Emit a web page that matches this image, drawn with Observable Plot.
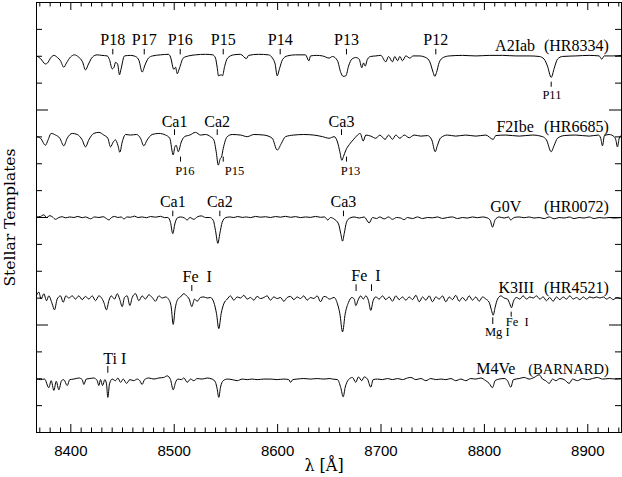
<!DOCTYPE html>
<html><head><meta charset="utf-8">
<script src="https://cdn.jsdelivr.net/npm/d3@7"></script>
<script src="https://cdn.jsdelivr.net/npm/@observablehq/plot@0.6"></script>
<style>body{margin:0;background:#fff}</style>
</head><body><div id="chart"></div>
<script>
// ---- data -------------------------------------------------------------
const stars   = ["A2Iab", "F2Ibe", "G0V", "K3III", "M4Ve"];
const starIds = ["(HR8334)", "(HR6685)", "(HR0072)", "(HR4521)", "(BARNARD)"];
const levels  = [3.508, 2.757, 2.005, 1.256, 0.502];   // continuum offset of each template
const nameLam = [8829.7, 8829.7, 8820.7, 8830.8, 8811.0];
const idEndLam = 8920.3;

// [wavelength (Å), normalised flux]
const specA2Iab = [[8366.8,0.995],[8370.7,0.97],[8375.5,0.92],[8377.5,0.93],[8380.4,0.975],[8383.6,1.0],[8387.1,0.98],[8390.0,0.95],[8393.2,0.89],[8395.8,0.93],[8399.7,0.985],[8403.6,1.005],[8407.4,0.985],[8411.3,0.94],[8414.2,0.865],[8417.1,0.92],[8421.0,0.985],[8425.5,1.005],[8430.0,1.0],[8435.2,0.995],[8437.4,0.96],[8440.0,0.875],[8441.8,0.89],[8443.2,0.935],[8445.2,0.92],[8447.1,0.82],[8448.6,0.875],[8451.9,0.995],[8457.7,1.0],[8462.6,0.99],[8466.0,0.95],[8469.0,0.845],[8471.7,0.91],[8475.1,0.975],[8479.0,0.995],[8486.7,1.005],[8494.5,1.01],[8496.4,0.985],[8499.6,0.87],[8501.3,0.89],[8502.9,0.83],[8505.2,0.885],[8508.7,0.975],[8513.8,0.995],[8520.6,1.005],[8530.3,1.01],[8537.3,1.005],[8539.9,0.975],[8541.6,0.885],[8542.8,0.81],[8545.4,0.82],[8546.7,0.81],[8548.7,0.895],[8551.6,0.975],[8557.4,1.005],[8564.1,1.01],[8569.9,0.97],[8571.9,1.0],[8581.5,1.01],[8591.2,1.005],[8595.0,0.975],[8597.6,0.92],[8599.6,0.81],[8601.8,0.875],[8604.7,0.96],[8609.3,0.995],[8617.3,1.005],[8627.0,1.005],[8630.2,0.95],[8631.9,0.995],[8637.6,1.0],[8643.4,0.995],[8649.9,0.975],[8653.1,0.99],[8657.9,0.95],[8661.1,0.84],[8663.4,0.805],[8666.0,0.81],[8668.6,0.90],[8671.8,0.965],[8675.6,0.98],[8678.9,0.965],[8681.4,0.885],[8683.1,0.93],[8684.7,0.90],[8686.9,0.965],[8690.1,0.99],[8695.0,0.995],[8699.8,1.0],[8704.6,0.94],[8707.3,0.99],[8711.1,0.94],[8713.3,0.99],[8716.0,0.95],[8718.2,0.99],[8720.8,0.95],[8724.0,0.995],[8727.9,0.975],[8731.1,0.995],[8737.0,0.995],[8743.3,0.98],[8747.2,0.94],[8750.5,0.84],[8752.0,0.805],[8753.7,0.84],[8756.3,0.935],[8760.2,0.98],[8766.0,0.995],[8778.8,1.0],[8791.7,0.995],[8804.6,1.0],[8817.5,1.0],[8830.4,0.995],[8843.3,0.995],[8853.0,0.99],[8857.8,0.965],[8861.0,0.90],[8864.6,0.795],[8867.5,0.88],[8870.7,0.965],[8875.5,0.99],[8888.4,0.995],[8901.3,1.0],[8911.0,0.995],[8913.5,0.965],[8915.9,0.995],[8923.9,0.995],[8932.6,1.0]];

const specF2Ibe = [[8366.8,0.995],[8370.7,0.98],[8375.5,0.915],[8377.8,0.96],[8381.0,1.025],[8385.2,1.01],[8389.4,0.98],[8393.2,0.91],[8396.5,0.98],[8401.4,1.025],[8406.2,1.015],[8411.0,0.965],[8414.2,0.90],[8417.4,0.965],[8422.2,1.025],[8427.1,1.035],[8431.9,1.01],[8435.8,0.98],[8438.4,0.90],[8441.0,0.945],[8443.2,0.965],[8445.5,0.915],[8447.4,0.85],[8449.7,0.945],[8452.9,1.015],[8457.7,1.01],[8463.5,1.015],[8467.4,0.98],[8470.6,0.91],[8473.9,0.965],[8478.7,1.015],[8485.1,1.025],[8491.6,1.01],[8495.7,0.98],[8499.0,0.825],[8500.6,0.90],[8501.9,0.915],[8503.9,0.855],[8506.8,0.945],[8510.0,0.995],[8515.1,1.01],[8520.6,1.035],[8525.4,1.01],[8530.3,1.015],[8535.1,0.995],[8538.3,0.965],[8540.6,0.855],[8542.6,0.73],[8544.5,0.79],[8545.7,0.805],[8547.4,0.885],[8551.3,0.995],[8556.1,1.015],[8564.1,1.01],[8570.6,0.995],[8577.0,1.015],[8586.6,1.01],[8594.8,0.98],[8599.6,0.87],[8603.5,0.93],[8607.6,0.995],[8615.7,1.01],[8625.3,1.015],[8635.0,1.01],[8643.4,0.995],[8649.9,0.98],[8654.7,0.995],[8657.9,0.945],[8660.2,0.855],[8662.1,0.775],[8663.7,0.81],[8666.0,0.87],[8669.2,0.92],[8673.1,0.965],[8677.3,1.01],[8679.9,1.025],[8682.8,0.955],[8685.3,1.01],[8690.1,1.0],[8695.0,0.98],[8698.8,1.01],[8704.0,0.97],[8707.3,1.01],[8711.1,0.97],[8714.3,1.01],[8718.2,0.98],[8722.4,1.01],[8727.3,0.985],[8732.1,1.01],[8738.5,1.0],[8745.0,1.005],[8749.1,0.965],[8752.4,0.855],[8754.6,0.915],[8757.8,0.985],[8764.3,1.01],[8772.3,1.0],[8782.0,1.01],[8791.7,1.0],[8801.3,1.01],[8808.5,0.97],[8811.0,1.005],[8820.7,1.01],[8833.6,1.0],[8846.5,1.01],[8856.2,0.995],[8860.0,0.965],[8864.6,0.855],[8867.5,0.915],[8870.7,0.98],[8877.2,1.005],[8888.4,1.01],[8901.3,1.0],[8910.3,1.01],[8912.5,0.98],[8914.2,0.91],[8916.1,1.005],[8920.7,1.015],[8925.5,0.995],[8927.1,0.965],[8928.7,0.90],[8930.4,0.98],[8932.6,1.01]];

const specG0V = [[8366.8,1.0],[8370.7,1.005],[8373.9,1.02],[8376.5,0.995],[8379.7,1.012],[8382.3,1.0],[8385.2,0.978],[8388.4,0.995],[8391.7,1.002],[8394.9,0.992],[8399.0,1.0],[8402.9,0.995],[8406.8,1.005],[8411.0,0.993],[8414.2,1.0],[8419.1,0.983],[8422.9,1.0],[8427.1,0.995],[8431.3,1.002],[8434.5,0.985],[8436.8,0.972],[8439.4,0.995],[8442.3,1.005],[8445.5,0.995],[8448.7,1.0],[8451.3,0.982],[8454.5,1.0],[8457.7,0.997],[8461.6,1.008],[8464.8,0.995],[8469.0,1.0],[8473.2,0.993],[8477.1,1.004],[8481.9,0.998],[8486.7,1.006],[8490.6,0.994],[8493.8,0.995],[8496.4,0.95],[8498.6,0.845],[8500.6,0.935],[8502.9,0.99],[8506.1,1.0],[8510.0,0.99],[8512.6,0.972],[8515.1,0.995],[8519.0,0.978],[8522.2,1.0],[8526.1,1.01],[8530.3,0.995],[8534.4,0.995],[8537.7,0.97],[8539.9,0.875],[8542.2,0.755],[8544.1,0.845],[8546.4,0.95],[8549.6,0.993],[8553.8,1.0],[8557.6,0.995],[8561.5,1.004],[8565.8,0.996],[8569.9,1.0],[8573.8,0.994],[8578.6,1.005],[8583.5,0.998],[8588.3,1.002],[8593.1,0.995],[8598.0,1.004],[8602.8,0.998],[8607.6,1.006],[8612.5,0.997],[8617.3,1.003],[8622.1,0.994],[8627.0,1.0],[8631.8,0.996],[8636.6,1.005],[8641.5,0.997],[8645.4,1.0],[8648.5,0.972],[8651.2,0.995],[8654.7,0.98],[8658.9,0.935],[8661.1,0.845],[8662.8,0.775],[8664.4,0.845],[8666.6,0.95],[8669.8,0.99],[8674.1,1.0],[8678.9,0.99],[8683.7,1.0],[8688.6,0.945],[8691.8,0.995],[8695.6,0.985],[8698.8,1.0],[8703.1,0.982],[8707.3,1.0],[8711.1,0.978],[8715.0,0.995],[8719.1,0.99],[8722.4,0.975],[8725.6,0.995],[8730.5,0.985],[8735.3,1.0],[8740.1,0.985],[8745.0,0.995],[8749.8,0.992],[8754.6,1.0],[8759.5,0.986],[8764.3,0.995],[8769.1,1.0],[8774.0,0.985],[8778.8,0.995],[8783.6,0.99],[8788.5,1.0],[8793.3,0.993],[8798.2,1.0],[8803.0,0.99],[8805.6,0.97],[8807.8,0.905],[8810.4,0.975],[8814.3,1.0],[8819.1,0.99],[8823.3,1.0],[8825.5,0.972],[8828.8,0.995],[8833.6,1.0],[8838.5,0.993],[8843.3,1.0],[8848.1,0.99],[8853.0,0.995],[8857.8,0.985],[8862.7,1.0],[8867.5,0.983],[8872.3,0.995],[8877.2,0.99],[8882.0,1.0],[8886.8,0.985],[8891.7,0.995],[8896.5,0.99],[8901.3,1.0],[8906.2,0.985],[8911.0,0.995],[8915.9,0.99],[8920.7,0.995],[8925.5,0.99],[8932.6,0.995]];

const specK3III = [[8366.8,1.02],[8369.0,1.05],[8371.3,0.985],[8373.9,1.035],[8376.5,0.97],[8378.7,1.015],[8382.0,0.94],[8384.2,0.885],[8386.8,0.985],[8390.0,1.015],[8392.6,0.955],[8395.2,1.015],[8398.1,0.995],[8401.4,1.015],[8404.5,0.985],[8407.7,1.015],[8411.0,0.98],[8414.2,1.01],[8417.4,0.985],[8420.7,1.015],[8423.9,0.97],[8427.1,1.015],[8429.4,1.0],[8431.9,0.955],[8434.5,0.885],[8436.8,0.97],[8439.1,1.015],[8442.3,0.985],[8444.9,1.035],[8447.4,0.98],[8449.7,0.915],[8451.9,1.0],[8454.5,1.015],[8457.1,0.925],[8459.4,1.0],[8462.6,1.035],[8465.8,0.97],[8469.0,1.015],[8472.2,0.985],[8475.4,1.025],[8478.7,1.0],[8481.9,0.965],[8485.1,1.015],[8488.4,0.995],[8491.6,1.005],[8494.8,0.98],[8497.1,0.91],[8499.0,0.75],[8500.9,0.895],[8503.5,0.985],[8506.1,1.005],[8509.3,1.035],[8511.9,1.015],[8514.5,0.985],[8517.0,0.915],[8519.6,0.985],[8522.2,0.965],[8525.4,1.0],[8528.6,1.005],[8531.9,0.995],[8535.1,1.0],[8538.3,0.955],[8540.9,0.85],[8543.1,0.71],[8545.4,0.85],[8547.9,0.94],[8551.3,0.985],[8554.4,1.015],[8557.6,0.975],[8560.9,1.005],[8564.1,0.995],[8567.3,1.02],[8570.6,0.985],[8573.8,1.0],[8577.0,0.975],[8580.2,1.01],[8583.5,0.99],[8586.7,1.0],[8589.9,1.015],[8593.1,0.975],[8596.3,1.005],[8599.6,0.99],[8602.8,1.0],[8606.0,0.965],[8609.3,1.0],[8612.5,1.01],[8615.7,0.98],[8618.9,1.005],[8622.1,0.99],[8625.3,1.015],[8628.6,0.975],[8631.8,1.0],[8635.0,0.99],[8638.3,1.015],[8641.5,0.96],[8644.7,1.01],[8647.9,1.0],[8649.9,0.985],[8654.7,1.0],[8657.9,0.94],[8660.2,0.85],[8662.8,0.68],[8665.4,0.85],[8668.6,0.955],[8671.8,1.0],[8674.1,0.985],[8675.6,0.925],[8678.2,0.985],[8680.5,1.015],[8682.8,0.985],[8685.3,1.015],[8687.9,0.97],[8690.1,0.88],[8692.4,0.97],[8695.0,1.005],[8698.2,0.985],[8701.5,1.015],[8704.6,0.98],[8707.9,1.005],[8711.1,0.965],[8714.3,1.015],[8717.6,0.98],[8720.8,1.005],[8724.0,0.975],[8727.3,1.005],[8730.5,0.98],[8733.7,1.02],[8737.0,0.96],[8740.2,1.005],[8743.4,0.975],[8746.6,1.015],[8749.8,0.96],[8753.0,1.005],[8756.3,0.985],[8759.5,1.015],[8762.7,0.96],[8766.0,1.005],[8769.1,0.98],[8772.3,1.02],[8775.6,0.965],[8778.8,1.0],[8782.0,0.97],[8785.3,1.015],[8788.5,0.975],[8791.7,1.005],[8795.0,0.965],[8798.2,1.005],[8801.4,0.985],[8804.6,0.955],[8806.9,0.88],[8808.5,0.835],[8810.4,0.91],[8812.7,0.985],[8815.9,1.015],[8819.1,0.995],[8822.3,0.985],[8824.6,0.94],[8826.2,0.905],[8828.1,0.965],[8831.0,1.0],[8834.2,0.985],[8837.5,1.015],[8840.7,0.985],[8843.9,1.005],[8847.2,0.995],[8850.4,1.015],[8853.6,0.985],[8856.9,1.005],[8860.0,0.97],[8863.2,1.0],[8866.5,0.965],[8869.7,1.005],[8872.9,0.98],[8876.2,1.005],[8879.4,0.985],[8882.6,1.015],[8885.9,0.985],[8889.1,1.0],[8892.3,0.98],[8895.6,1.005],[8898.8,0.985],[8902.0,1.005],[8905.3,0.995],[8908.5,1.005],[8911.7,0.995],[8915.0,1.005],[8918.2,0.985],[8921.3,1.0],[8924.6,0.98],[8927.8,1.0],[8932.6,0.985]];

const specM4Ve = [[8366.8,0.995],[8370.7,0.99],[8374.6,0.995],[8378.7,0.915],[8381.0,0.98],[8383.6,0.89],[8385.9,0.975],[8388.4,0.895],[8391.0,0.98],[8393.2,0.99],[8396.5,0.935],[8399.0,0.99],[8402.9,0.995],[8407.7,1.005],[8411.0,0.99],[8412.6,0.945],[8414.9,0.995],[8418.4,1.0],[8422.2,1.005],[8425.5,0.98],[8427.1,0.935],[8428.7,0.99],[8430.7,0.935],[8432.9,0.99],[8434.5,0.95],[8435.8,0.825],[8437.4,0.95],[8440.0,0.995],[8443.2,0.98],[8445.5,1.005],[8448.1,0.965],[8450.7,0.995],[8453.9,0.955],[8457.1,0.99],[8460.9,0.98],[8464.2,0.995],[8466.7,0.98],[8469.0,0.945],[8471.3,0.99],[8475.4,1.005],[8480.3,0.995],[8485.1,1.005],[8489.9,1.01],[8493.2,1.025],[8496.4,0.99],[8499.0,0.895],[8501.3,0.965],[8503.5,0.995],[8506.8,0.99],[8509.3,1.005],[8512.6,0.965],[8515.8,0.995],[8519.0,0.98],[8522.2,1.0],[8527.1,0.995],[8531.9,1.005],[8536.7,0.995],[8539.9,0.965],[8541.5,0.905],[8543.1,0.825],[8544.8,0.92],[8547.4,0.98],[8551.3,0.995],[8556.1,0.99],[8560.9,0.98],[8565.8,0.995],[8570.6,0.99],[8575.4,0.995],[8580.2,0.99],[8586.7,0.995],[8593.1,0.995],[8599.6,0.99],[8606.0,0.995],[8610.8,0.99],[8612.5,0.965],[8614.7,0.99],[8618.9,0.995],[8625.3,1.0],[8631.8,0.995],[8638.3,1.0],[8644.7,0.995],[8650.5,1.0],[8653.1,0.995],[8657.9,0.99],[8661.1,0.915],[8663.4,0.83],[8665.4,0.92],[8668.6,0.99],[8672.4,1.01],[8675.6,0.965],[8678.2,1.015],[8681.4,0.98],[8683.7,1.015],[8686.9,0.995],[8690.1,0.92],[8692.4,0.99],[8696.6,0.995],[8701.4,0.99],[8706.3,1.0],[8711.1,0.99],[8716.0,1.0],[8720.8,0.99],[8725.6,1.005],[8728.8,1.01],[8733.7,0.99],[8738.5,1.0],[8743.4,0.98],[8748.2,1.0],[8753.0,0.99],[8757.9,0.995],[8762.7,0.99],[8767.5,1.0],[8772.3,0.98],[8777.2,0.995],[8782.0,0.98],[8786.8,1.0],[8791.7,0.995],[8796.5,1.005],[8801.3,0.98],[8804.6,0.955],[8807.8,0.915],[8810.4,0.98],[8814.3,0.995],[8819.1,1.0],[8822.3,0.98],[8825.5,0.92],[8828.1,0.99],[8833.6,1.0],[8838.5,1.01],[8843.3,0.995],[8848.1,1.01],[8853.0,1.035],[8856.2,0.995],[8859.3,0.98],[8862.7,0.955],[8865.9,0.995],[8869.1,0.98],[8873.0,1.0],[8877.2,0.99],[8882.0,0.955],[8885.2,0.995],[8890.0,0.98],[8894.9,1.0],[8899.7,0.99],[8904.5,1.0],[8909.4,1.01],[8914.2,0.995],[8920.7,1.0],[8927.1,0.995],[8932.6,1.0]];

const spectra = [specA2Iab, specF2Ibe, specG0V, specK3III, specM4Ve];

// line identifications
const pAbove     = ["P18", "P17", "P16", "P15", "P14", "P13", "P12"];
const pAboveLam  = [8440.6, 8471.0, 8505.8, 8547.4, 8602.5, 8666.6, 8753.0];
const caNames    = ["Ca1", "Ca2", "Ca3"];
const caF2Lam    = [8500.3, 8541.6, 8661.8];
const caG0Lam    = [8498.6, 8544.1, 8663.7];
const pBelowF2   = ["P16", "P15", "P13"];
const pBelowF2Lam  = [8506.1, 8547.4, 8666.6];
const pBelowF2TLam = [8510.3, 8558.3, 8670.5];

// axis ticks
const xMajor = [8400, 8500, 8600, 8700, 8800, 8900];
const xMinor = d3.range(8370, 8931, 10).filter(v => v % 100 !== 0);
const yMajor = [1, 2, 3];
const yMinor = d3.range(0.25, 4, 0.25).filter(v => v % 1 !== 0);

// ---- layout -----------------------------------------------------------
const W = 622, H = 477, mL = 36, mR = 1, mT = 2, mB = 45;
const iw = W - mL - mR, ih = H - mT - mB;
const PX = ih / 4;                        // pixels per y unit
const off = (s, px) => levels[s] - px / PX; // px offset (down positive) from continuum

const rows = stars.flatMap((s, i) => spectra[i].map(([lam, f]) => ({star: s, lam, y: levels[i] + f - 1})));

const ticks = [], labels = [];
function group(s, lams, names, tLams, a, b, tdy, size) {
  lams.forEach(l => ticks.push({s, lam: l, a, b}));
  names.forEach((n, i) => labels.push({s, lam: tLams[i], text: n, dy: tdy, size}));
}
group(0, pAboveLam, pAbove, pAboveLam, -6, -0.5, -10, 16);
group(0, [8864.6], ["P11"], [8865.3], 26.8, 31.8, 44, 12.5);
group(1, caF2Lam, caNames, caF2Lam, -6.3, -0.6, -9.6, 16);
group(1, pBelowF2Lam, pBelowF2, pBelowF2TLam, 21, 26, 38.7, 12.5);
group(2, caG0Lam, caNames, caG0Lam, -5.8, -0.3, -10.3, 16);
group(3, [8517.0], ["Fe\u00a0\u00a0I"], [8522.2], -12, -6, -15.3, 16);
group(3, [8675.9, 8690.8], ["Fe\u00a0\u00a0I"], [8685.4], -12.7, -6, -16.3, 16);
group(3, [8808.1], ["Mg\u00a0I"], [8812.4], 20.3, 27, 39, 12.5);
group(3, [8825.9], ["Fe\u00a0\u00a0I"], [8831.7], 14.7, 19.7, 28.7, 12.5);
group(4, [8435.8], ["Ti\u00a0I"], [8442.5], -12, -5.3, -14.7, 16);

const serif = "Liberation Serif";
const chart = Plot.plot({
  width: W, height: H,
  marginLeft: mL, marginRight: mR, marginTop: mT, marginBottom: mB,
  x: {domain: [8366.8, 8932.6], axis: null},
  y: {domain: [0, 4], axis: null},
  style: {background: "white", color: "black", fontFamily: serif},
  marks: [
    Plot.line(rows, {x: "lam", y: "y", z: "star", stroke: "black", strokeWidth: 1, curve: "monotone-x"}),
    Plot.frame({stroke: "black", strokeWidth: 1}),
    // inward ticks
    Plot.tickX(xMinor, {x: d => d, insetTop: ih - 4.5, stroke: "black"}),
    Plot.tickX(xMinor, {x: d => d, insetBottom: ih - 4.5, stroke: "black"}),
    Plot.tickX(xMajor, {x: d => d, insetTop: ih - 8, stroke: "black"}),
    Plot.tickX(xMajor, {x: d => d, insetBottom: ih - 8, stroke: "black"}),
    Plot.tickY(yMinor, {y: d => d, insetRight: iw - 6, stroke: "black"}),
    Plot.tickY(yMinor, {y: d => d, insetLeft: iw - 6, stroke: "black"}),
    Plot.tickY(yMajor, {y: d => d, insetRight: iw - 12, stroke: "black"}),
    Plot.tickY(yMajor, {y: d => d, insetLeft: iw - 12, stroke: "black"}),
    // tick labels
    Plot.text(xMajor, {x: d => d, frameAnchor: "bottom", dy: 23, lineAnchor: "bottom", text: d => String(d),
      fontFamily: "Liberation Sans", fontSize: 15, fill: "black"}),
    // axis titles
    Plot.text(["λ [Å]"], {frameAnchor: "bottom", dx: -5, dy: 38, lineAnchor: "bottom", text: d => d,
      fontFamily: "DejaVu Serif", fontSize: 16, fill: "black"}),
    Plot.text(["Stellar Templates"], {frameAnchor: "left", textAnchor: "middle", dx: -22, rotate: -90, lineAnchor: "bottom",
      text: d => d, fontFamily: "DejaVu Serif", fontSize: 15.5, fill: "black"}),
    // star names
    Plot.text(stars, {x: (d, i) => nameLam[i], y: (d, i) => off(i, -4.5), text: d => d, lineAnchor: "bottom",
      fontFamily: serif, fontSize: 16, fill: "black"}),
    Plot.text(starIds, {x: idEndLam, y: (d, i) => off(i, -4.5), text: d => d, textAnchor: "end", lineAnchor: "bottom",
      fontFamily: serif, fontSize: d => d.length > 8 ? 14.5 : 16, fill: "black"}),
    // line identifications
    Plot.ruleX(ticks, {x: "lam", y1: d => off(d.s, d.a), y2: d => off(d.s, d.b), stroke: "black", strokeWidth: 1}),
    Plot.text(labels.filter(d => d.size === 16), {x: "lam", y: d => off(d.s, d.dy), text: "text", lineAnchor: "bottom",
      fontFamily: serif, fontSize: 16, fill: "black"}),
    Plot.text(labels.filter(d => d.size !== 16), {x: "lam", y: d => off(d.s, d.dy), text: "text", lineAnchor: "bottom",
      fontFamily: serif, fontSize: 12.5, fill: "black"})
  ]
});
document.getElementById("chart").appendChild(chart);
</script>
</body></html>
